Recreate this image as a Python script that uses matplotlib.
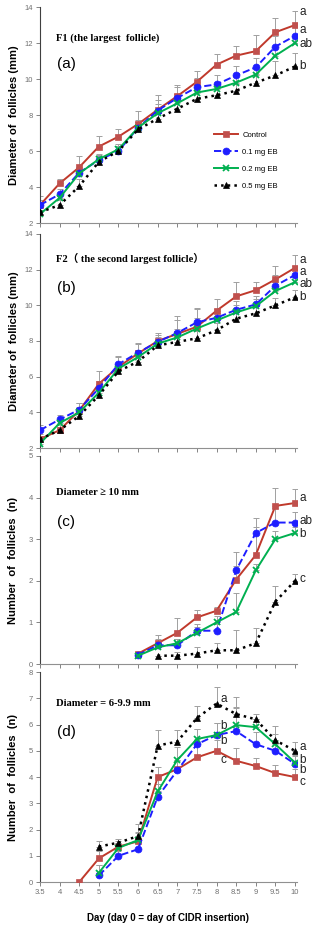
import numpy as np
import matplotlib.pyplot as plt

days = [3.5, 4, 4.5, 5, 5.5, 6, 6.5, 7, 7.5, 8, 8.5, 9, 9.5, 10]
labels = ['Control', '0.1 mg EB', '0.2 mg EB', '0.5 mg EB']

# panel (a) F1
a_ctrl = [3.0, 4.2, 5.1, 6.25, 6.8, 7.5, 8.3, 9.05, 9.85, 10.8, 11.3, 11.55, 12.6, 13.0]
a_01 = [3.0, 3.6, 4.8, 5.5, 6.0, 7.3, 8.25, 8.95, 9.55, 9.7, 10.2, 10.65, 11.8, 12.4]
a_02 = [2.5, 3.4, 4.75, 5.55, 6.1, 7.3, 8.1, 8.65, 9.25, 9.45, 9.8, 10.25, 11.3, 12.0]
a_05 = [2.6, 3.0, 4.05, 5.4, 6.0, 7.2, 7.8, 8.35, 8.9, 9.1, 9.35, 9.8, 10.2, 10.7]
a_err = [[0.5, 0.25, 0.65, 0.6, 0.4, 0.75, 0.8, 0.6, 0.6, 0.6, 0.55, 0.9, 0.8, 0.8],
         [0.3, 0.3, 0.3, 0.3, 0.3, 0.4, 0.6, 0.6, 0.5, 0.5, 0.5, 0.5, 0.6, 0.5],
         [0.2, 0.2, 0.3, 0.3, 0.3, 0.3, 0.5, 0.5, 0.4, 0.4, 0.4, 0.4, 0.5, 0.4],
         [0.3, 0.3, 0.4, 0.3, 0.3, 0.4, 0.5, 0.5, 0.4, 0.4, 0.4, 0.5, 0.8, 0.75]]
a_letters = [('a', 13.7), ('a', 12.75), ('ab', 11.95), ('b', 10.75)]

# panel (b) F2
b_ctrl = [2.5, 3.0, 4.1, 5.6, 6.55, 7.3, 8.0, 8.4, 8.8, 9.7, 10.5, 10.85, 11.45, 12.1]
b_01 = [3.0, 3.6, 4.15, 5.35, 6.7, 7.35, 7.95, 8.45, 9.05, 9.3, 9.75, 10.05, 11.1, 11.7]
b_02 = [2.25, 3.4, 4.0, 5.1, 6.45, 7.1, 7.85, 8.2, 8.7, 9.15, 9.6, 9.95, 10.8, 11.3]
b_05 = [2.5, 3.0, 3.8, 4.95, 6.3, 6.85, 7.75, 7.95, 8.15, 8.6, 9.25, 9.55, 10.0, 10.45]
b_err = [[0.3, 0.3, 0.45, 0.7, 0.6, 0.6, 0.45, 1.0, 1.0, 0.65, 0.8, 0.45, 0.75, 0.7],
         [0.3, 0.25, 0.4, 0.4, 0.4, 0.5, 0.4, 0.7, 0.8, 0.5, 0.5, 0.5, 0.6, 0.5],
         [0.2, 0.2, 0.3, 0.3, 0.3, 0.4, 0.4, 0.5, 0.6, 0.4, 0.4, 0.4, 0.5, 0.5],
         [0.2, 0.2, 0.3, 0.3, 0.3, 0.4, 0.3, 0.4, 0.4, 0.4, 0.4, 0.4, 0.4, 0.4]]
b_letters = [('a', 12.55), ('a', 11.85), ('ab', 11.2), ('b', 10.48)]

# panel (c) number >= 10 mm
c_days = [6, 6.5, 7, 7.5, 8, 8.5, 9, 9.5, 10]
c_ctrl = [0.25, 0.5, 0.75, 1.12, 1.28, 2.03, 2.62, 3.8, 3.87]
c_01 = [0.22, 0.45, 0.45, 0.8, 0.8, 2.25, 3.15, 3.4, 3.4]
c_02 = [0.2, 0.4, 0.5, 0.75, 1.0, 1.25, 2.25, 3.0, 3.15]
c_05_days = [6.5, 7, 7.5, 8, 8.5, 9, 9.5, 10]
c_05 = [0.2, 0.2, 0.25, 0.33, 0.33, 0.5, 1.5, 2.0]
c_err = [[0.05, 0.2, 0.35, 0.18, 0.1, 0.32, 0.68, 0.42, 0.33],
         [0.05, 0.15, 0.15, 0.15, 0.15, 0.45, 0.37, 0.35, 0.25],
         [0.05, 0.1, 0.1, 0.15, 0.15, 0.45, 0.15, 0.2, 0.15],
         [0.0, 0.1, 0.15, 0.17, 0.48, 0.36, 0.37, 0.17]]
c_letters = [('a', 3.98), ('ab', 3.44), ('b', 3.12), ('c', 2.04)]

# panel (d) number 6-9.9 mm
d_ctrl_days = [4.5, 5, 5.5, 6, 6.5, 7, 7.5, 8, 8.5, 9, 9.5, 10]
d_ctrl = [0.0, 0.9, 1.35, 1.55, 4.0, 4.3, 4.75, 5.0, 4.62, 4.42, 4.15, 4.0]
d_days = [5, 5.5, 6, 6.5, 7, 7.5, 8, 8.5, 9, 9.5, 10]
d_01 = [0.25, 1.0, 1.25, 3.25, 4.25, 5.25, 5.6, 5.75, 5.25, 5.0, 4.5]
d_02 = [0.35, 1.3, 1.6, 3.45, 4.65, 5.45, 5.6, 5.98, 5.9, 5.25, 4.55]
d_05 = [1.35, 1.5, 1.75, 5.2, 5.35, 6.25, 6.8, 6.4, 6.2, 5.4, 5.0]
d_err = [[0.0, 0.3, 0.2, 0.3, 0.4, 0.3, 0.45, 0.4, 0.5, 0.3, 0.3, 0.3],
         [0.4, 0.2, 0.3, 0.5, 0.4, 0.6, 0.45, 0.9, 0.45, 0.4, 0.3],
         [0.3, 0.2, 0.3, 0.5, 0.5, 0.4, 0.45, 0.7, 0.3, 0.4, 0.3],
         [0.2, 0.15, 0.45, 0.6, 0.45, 0.45, 0.65, 0.65, 0.2, 0.55, 0.35]]
d_letters_end = [('a', 5.16), ('b', 4.65), ('b', 4.26), ('c', 3.82)]
d_letters_mid = [('a', 6.97), ('b', 5.94), ('b', 5.37), ('c', 4.65)]

colors = ['#C0504D', '#1E1EFF', '#00B050', '#000000']
lcolors = ['#C0392B', '#1E1EFF', '#00B050', '#000000']
styles = ['-', '--', '-', ':']
markers = ['s', 'o', 'x', '^']

fig = plt.figure(figsize=(3.2, 9.27), dpi=100)
left, width = 0.125, 0.803
axa = fig.add_axes([left, 0.7594, width, 0.233])
axb = fig.add_axes([left, 0.5167, width, 0.2309])
axc = fig.add_axes([left, 0.2837, width, 0.2244])
axd = fig.add_axes([left, 0.0485, width, 0.2265])

sans = 'Liberation Sans'
serif = ['Liberation Serif', 'Noto Sans CJK SC', 'DejaVu Serif']


def draw(ax, xs, series, errs):
    for i, (x, y) in enumerate(zip(xs, series)):
        e = np.array(errs[i])
        ax.errorbar(x, y, yerr=[np.zeros_like(e), e], fmt='none',
                    ecolor='#A0A0A0', elinewidth=0.7, capsize=2, capthick=0.7, zorder=1)
        ax.plot(x, y, linestyle=styles[i], color=lcolors[i], lw=1.4 if i != 3 else 1.8,
                marker=markers[i], ms=5, mfc=colors[i], mec=colors[i],
                mew=1.3 if markers[i] == 'x' else 0.5, label=labels[i], zorder=3)


def style(ax, ylim, yticks, show_x=False):
    ax.set_xlim(3.5, 10.05)
    ax.set_ylim(*ylim)
    ax.set_yticks(yticks)
    ax.set_xticks(days)
    for s in ['top', 'right']:
        ax.spines[s].set_visible(False)
    ax.spines['left'].set_color('#404040')
    ax.spines['bottom'].set_color('#909090')
    ax.tick_params(axis='both', direction='out', length=3, width=0.6,
                   colors='#707070', labelsize=5.5, pad=2)
    if show_x:
        ax.set_xticklabels(['3.5', '4', '4.5', '5', '5.5', '6', '6.5', '7',
                            '7.5', '8', '8.5', '9', '9.5', '10'])
    else:
        ax.set_xticklabels([])
    for lab in ax.get_xticklabels() + ax.get_yticklabels():
        lab.set_fontfamily(sans)


def letters(ax, items, x=10.12, size=8.5):
    for t, y in items:
        ax.text(x, y, t, fontsize=size, family=sans, va='center', ha='left', color='#222222')


def heading(ax, title, tag, ty, gy):
    ax.text(3.9, ty, title, family=serif, fontweight='bold', fontsize=7.6, va='center')
    ax.text(3.93, gy, tag, family=sans, fontsize=11, va='center')


# (a)
draw(axa, [days] * 4, [a_ctrl, a_01, a_02, a_05], a_err)
style(axa, (2, 14), [2, 4, 6, 8, 10, 12, 14])
letters(axa, a_letters)
heading(axa, 'F1 (the largest  follicle)', '(a)', 12.25, 10.85)
axa.set_ylabel('Diameter of  follicles (mm)', family=sans, fontweight='bold', fontsize=8, labelpad=4)
axa.legend(loc='upper left', bbox_to_anchor=(0.65, 0.455), frameon=False,
           prop={'family': sans, 'size': 5.5}, labelspacing=1.25, handlelength=3.2,
           handletextpad=0.5)

# (b)
draw(axb, [days] * 4, [b_ctrl, b_01, b_02, b_05], b_err)
style(axb, (2, 14), [2, 4, 6, 8, 10, 12, 14])
letters(axb, b_letters)
heading(axb, 'F2（ the second largest follicle）', '(b)', 12.63, 10.95)
axb.set_ylabel('Diameter of  follicles (mm)', family=sans, fontweight='bold', fontsize=8, labelpad=4)

# (c)
draw(axc, [c_days, c_days, c_days, c_05_days], [c_ctrl, c_01, c_02, c_05], c_err)
style(axc, (0, 5), [0, 1, 2, 3, 4, 5])
letters(axc, c_letters)
heading(axc, 'Diameter ≥ 10 mm', '(c)', 4.12, 3.42)
axc.set_ylabel('Number  of  follicles  (n)', family=sans, fontweight='bold', fontsize=8, labelpad=8)

# (d)
draw(axd, [d_ctrl_days, d_days, d_days, d_days], [d_ctrl, d_01, d_02, d_05], d_err)
style(axd, (0, 8), [0, 1, 2, 3, 4, 5, 6, 7, 8], show_x=True)
letters(axd, d_letters_end)
letters(axd, d_letters_mid, x=8.1)
heading(axd, 'Diameter = 6-9.9 mm', '(d)', 6.81, 5.73)
axd.set_ylabel('Number  of  follicles  (n)', family=sans, fontweight='bold', fontsize=8, labelpad=8)
axd.set_xlabel('Day (day 0 = day of CIDR insertion)', family=sans, fontweight='bold', fontsize=7, labelpad=12)

fig.savefig('out.png', dpi=100)
